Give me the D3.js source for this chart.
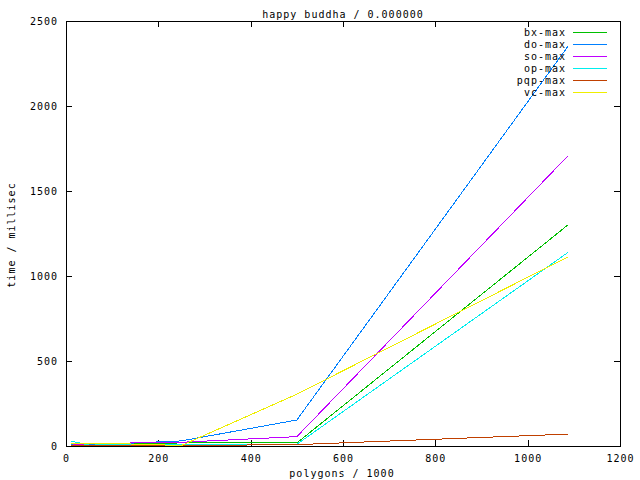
<!DOCTYPE html>
<html><head><meta charset="utf-8">
<script src="https://cdn.jsdelivr.net/npm/d3@7/dist/d3.min.js"></script>
<style>
html,body{margin:0;padding:0;background:#fff;}
svg text{font-family:"DejaVu Sans Mono",monospace;font-size:10px;letter-spacing:1px;fill:#000;}
</style></head>
<body><svg id="c" width="640" height="480"></svg>
<script>
const polygons = [10, 50, 100, 250, 500, 1087];
const bxMax  = [15, 14, 12, 18, 18, 1300];
const doMax  = [8, 10, 12, 30, 153, 2350];
const soMax  = [5, 12, 16, 22, 55, 1706];
const opMax  = [30, 5, 8, 10, 10, 1138];
const pqpMax = [5, 3, 3, 3, 8, 70];
const vcMax  = [15, 15, 15, 3, 305, 1112];
const seriesNames = ["bx-max", "do-max", "so-max", "op-max", "pqp-max", "vc-max"];
const seriesValues = [bxMax, doMax, soMax, opMax, pqpMax, vcMax];
const colors = ["#00c000", "#0080ff", "#c000ff", "#00eeee", "#c04000", "#eeee00"];
const xTicks = [0, 200, 400, 600, 800, 1000, 1200];
const yTicks = [0, 500, 1000, 1500, 2000, 2500];
const titleText = "happy buddha / 0.000000";
const xLabel = "polygons / 1000";
const yLabel = "time / millisec";

const L = 66, R = 620, T = 21, B = 446;
const svg = d3.select("#c");
const x = d3.scaleLinear().domain([0, 1200]).range([L, R]);
const y = d3.scaleLinear().domain([0, 2500]).range([B, T]);

const g = svg.append("g").attr("shape-rendering", "crispEdges");
// ticks (mirrored on all sides)
const tl = 6;
xTicks.forEach(t => {
  const px = Math.round(x(t)) + 0.5;
  g.append("line").attr("x1", px).attr("x2", px).attr("y1", B).attr("y2", B - tl).attr("stroke", "#000");
  g.append("line").attr("x1", px).attr("x2", px).attr("y1", T).attr("y2", T + tl).attr("stroke", "#000");
  svg.append("text").attr("x", x(t) + 0.5).attr("y", 462).attr("text-anchor", "middle").text(t);
});
yTicks.forEach(t => {
  const py = Math.round(y(t)) + 0.5;
  g.append("line").attr("x1", L).attr("x2", L + tl).attr("y1", py).attr("y2", py).attr("stroke", "#000");
  g.append("line").attr("x1", R).attr("x2", R - tl).attr("y1", py).attr("y2", py).attr("stroke", "#000");
  svg.append("text").attr("x", 58).attr("y", y(t) + 4).attr("text-anchor", "end").text(t);
});
// border
g.append("rect").attr("x", L + 0.5).attr("y", T + 0.5).attr("width", R - L).attr("height", B - T)
  .attr("fill", "none").attr("stroke", "#000");

// title & labels
svg.append("text").attr("x", 343).attr("y", 18).attr("text-anchor", "middle").text(titleText);
svg.append("text").attr("x", 342).attr("y", 477).attr("text-anchor", "middle").text(xLabel);
svg.append("text").attr("transform", "translate(15,235) rotate(-90)").attr("text-anchor", "middle").text(yLabel);

const line = d3.line().x((d, i) => x(polygons[i])).y(d => y(d));
seriesNames.forEach((name, k) => {
  const ky = 32 + k * 12;
  svg.append("text").attr("x", 566).attr("y", ky + 4).attr("text-anchor", "end").text(name);
  svg.append("line").attr("x1", 573).attr("x2", 607).attr("y1", ky + 0.5).attr("y2", ky + 0.5)
    .attr("stroke", colors[k]).attr("shape-rendering", "crispEdges");
  svg.append("path").datum(seriesValues[k]).attr("d", line)
    .attr("fill", "none").attr("stroke", colors[k]).attr("stroke-width", 1)
    .attr("shape-rendering", "crispEdges");
});
</script></body></html>
